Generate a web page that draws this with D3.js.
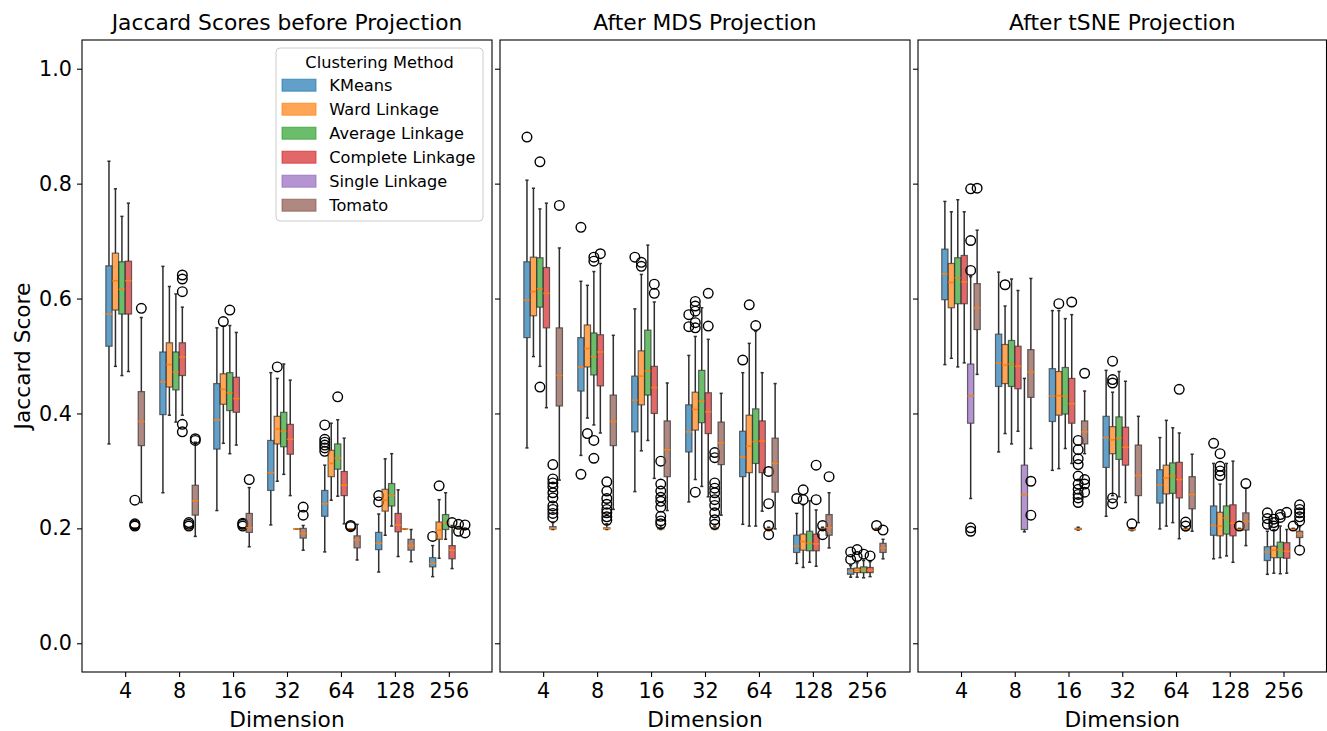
<!DOCTYPE html>
<html><head><meta charset="utf-8">
<script src="https://cdn.jsdelivr.net/npm/d3@7"></script>
<style>body{margin:0;background:#fff} svg{display:block} text{font-family:"DejaVu Sans",sans-serif;fill:#000}</style>
</head><body><svg id="c" width="1327" height="731"></svg>
<script>
const dims = ["4","8","16","32","64","128","256"];
const methods = ["KMeans","Ward Linkage","Average Linkage","Complete Linkage","Single Linkage","Tomato"];
const colors = ["#1f77b4","#ff7f0e","#2ca02c","#d62728","#9467bd","#8c564b"];
const titles = ["Jaccard Scores before Projection","After MDS Projection","After tSNE Projection"];
const yTicks = [0,0.2,0.4,0.6,0.8,1.0];

// [low whisker, Q1, median, Q3, high whisker] per dimension, per method
const beforeBoxes = [
 [[0.347,0.517,0.573,0.657,0.839],[0.482,0.580,0.631,0.679,0.791],[0.466,0.573,0.616,0.664,0.743],[0.473,0.573,0.631,0.665,0.766],[0.200,0.200,0.201,0.201,0.201],[0.245,0.344,0.386,0.438,0.567]],
 [[0.262,0.398,0.455,0.507,0.656],[0.397,0.446,0.485,0.523,0.621],[0.385,0.441,0.472,0.507,0.608],[0.397,0.466,0.498,0.523,0.585],[0.200,0.200,0.200,0.200,0.200],[0.186,0.223,0.248,0.275,0.350]],
 [[0.231,0.338,0.389,0.452,0.549],[0.348,0.416,0.442,0.469,0.552],[0.330,0.405,0.436,0.471,0.553],[0.345,0.402,0.426,0.463,0.541],[0.200,0.200,0.200,0.200,0.200],[0.168,0.193,0.201,0.226,0.271]],
 [[0.206,0.266,0.297,0.353,0.471],[0.282,0.347,0.373,0.395,0.461],[0.294,0.342,0.369,0.402,0.486],[0.257,0.329,0.355,0.381,0.458],[0.199,0.199,0.199,0.199,0.199],[0.162,0.183,0.191,0.200,0.205]],
 [[0.159,0.221,0.243,0.266,0.310],[0.249,0.290,0.313,0.336,0.383],[0.256,0.303,0.322,0.347,0.389],[0.208,0.257,0.275,0.299,0.357],[0.199,0.199,0.199,0.199,0.199],[0.145,0.166,0.180,0.187,0.207]],
 [[0.124,0.163,0.174,0.193,0.225],[0.188,0.230,0.249,0.268,0.321],[0.204,0.239,0.257,0.278,0.330],[0.151,0.194,0.206,0.226,0.267],[0.199,0.199,0.199,0.199,0.199],[0.142,0.162,0.170,0.181,0.198]],
 [[0.116,0.133,0.139,0.149,0.170],[0.148,0.181,0.197,0.211,0.250],[0.181,0.198,0.210,0.224,0.262],[0.130,0.147,0.162,0.170,0.205],[0.200,0.200,0.200,0.200,0.200],[0.198,0.199,0.199,0.200,0.200]]
];
const beforeOutliers = [
 [[],[],[],[],[0.249,0.204,0.206,0.208],[0.583]],
 [[],[],[],[0.641,0.634,0.612,0.381,0.368],[0.204,0.207,0.210],[0.353,0.356]],
 [[],[0.560],[0.580],[],[0.204,0.207,0.209],[0.285]],
 [[],[0.481],[],[],[],[0.223,0.237]],
 [[0.334,0.340,0.345,0.350,0.355,0.380],[],[0.429],[],[0.203,0.205],[]],
 [[0.246,0.257],[],[],[],[],[]],
 [[0.186],[0.274],[],[0.210],[0.207,0.195],[0.206,0.192]]
];

const mdsBoxes = [
 [[0.340,0.532,0.597,0.664,0.806],[0.499,0.570,0.612,0.672,0.792],[0.482,0.585,0.617,0.671,0.756],[0.410,0.549,0.609,0.654,0.766],[0.198,0.199,0.200,0.203,0.210],[0.284,0.413,0.466,0.549,0.688]],
 [[0.327,0.439,0.481,0.532,0.630],[0.392,0.481,0.513,0.554,0.623],[0.380,0.467,0.499,0.540,0.647],[0.366,0.448,0.507,0.537,0.661],[0.198,0.199,0.200,0.201,0.208],[0.233,0.344,0.386,0.432,0.536]],
 [[0.264,0.368,0.423,0.465,0.582],[0.335,0.415,0.465,0.509,0.642],[0.353,0.432,0.474,0.545,0.693],[0.287,0.400,0.445,0.482,0.594],[0.198,0.199,0.200,0.201,0.205],[0.231,0.290,0.337,0.387,0.453]],
 [[0.246,0.333,0.368,0.415,0.501],[0.285,0.371,0.407,0.437,0.534],[0.273,0.384,0.421,0.475,0.584],[0.255,0.365,0.403,0.436,0.529],[0.198,0.199,0.200,0.201,0.204],[0.223,0.311,0.349,0.385,0.435]],
 [[0.207,0.290,0.324,0.369,0.471],[0.204,0.297,0.343,0.397,0.522],[0.204,0.313,0.351,0.408,0.543],[0.230,0.297,0.352,0.387,0.471],[0.196,0.198,0.199,0.200,0.202],[0.199,0.263,0.313,0.357,0.452]],
 [[0.139,0.158,0.169,0.188,0.226],[0.132,0.162,0.177,0.190,0.241],[0.141,0.161,0.174,0.195,0.248],[0.134,0.161,0.173,0.190,0.232],[0.196,0.197,0.198,0.200,0.202],[0.166,0.188,0.201,0.224,0.262]],
 [[0.115,0.120,0.125,0.130,0.135],[0.115,0.123,0.127,0.131,0.140],[0.114,0.123,0.128,0.133,0.144],[0.116,0.123,0.127,0.132,0.142],[0.197,0.198,0.198,0.199,0.200],[0.147,0.158,0.166,0.174,0.181]]
];
const mdsOutliers = [
 [[0.881],[],[0.838,0.446],[],[0.311,0.286,0.279,0.272,0.262,0.253,0.239,0.233,0.226,0.219],[0.762]],
 [[0.724,0.294],[0.365],[0.672,0.665,0.353,0.322],[0.678],[0.281,0.265,0.252,0.242,0.233,0.227,0.220,0.214],[]],
 [[0.672],[0.663,0.656],[],[0.625,0.609],[0.317,0.277,0.265,0.254,0.247,0.237,0.221,0.213,0.208],[]],
 [[0.572,0.551],[0.595,0.587,0.578,0.558,0.549,0.263],[],[0.609,0.552],[0.332,0.323,0.279,0.270,0.262,0.250,0.240,0.227,0.215,0.207],[]],
 [[0.493],[0.589],[0.553],[],[0.299,0.243,0.205,0.189],[]],
 [[0.252],[0.267,0.250],[],[0.310,0.250],[0.205,0.189],[0.290]],
 [[0.159,0.146],[0.163,0.151],[0.155],[0.152],[0.205],[0.197]]
];

const tsneBoxes = [
 [[0.485,0.598,0.643,0.686,0.769],[0.496,0.584,0.628,0.661,0.751],[0.481,0.591,0.636,0.671,0.772],[0.488,0.591,0.629,0.675,0.751],[0.252,0.383,0.431,0.486,0.638],[0.468,0.546,0.584,0.626,0.719]],
 [[0.333,0.447,0.488,0.538,0.646],[0.365,0.452,0.484,0.520,0.587],[0.347,0.447,0.486,0.527,0.634],[0.369,0.443,0.482,0.517,0.614],[0.194,0.198,0.259,0.310,0.461],[0.339,0.428,0.472,0.511,0.635]],
 [[0.301,0.386,0.430,0.478,0.579],[0.304,0.397,0.431,0.473,0.579],[0.339,0.399,0.430,0.480,0.565],[0.313,0.383,0.417,0.461,0.572],[0.197,0.198,0.199,0.200,0.202],[0.330,0.347,0.368,0.387,0.439]],
 [[0.221,0.306,0.358,0.395,0.475],[0.257,0.330,0.354,0.377,0.437],[0.255,0.320,0.357,0.394,0.473],[0.245,0.310,0.341,0.376,0.456],[0.196,0.197,0.198,0.199,0.201],[0.210,0.257,0.292,0.345,0.395]],
 [[0.199,0.244,0.275,0.302,0.358],[0.204,0.260,0.288,0.310,0.388],[0.210,0.261,0.291,0.314,0.375],[0.182,0.253,0.285,0.315,0.366],[0.196,0.197,0.198,0.199,0.201],[0.195,0.234,0.259,0.290,0.329]],
 [[0.147,0.188,0.205,0.239,0.313],[0.149,0.187,0.204,0.228,0.277],[0.152,0.190,0.218,0.239,0.313],[0.141,0.187,0.209,0.241,0.317],[0.197,0.198,0.198,0.199,0.200],[0.170,0.197,0.212,0.227,0.270]],
 [[0.120,0.144,0.159,0.168,0.195],[0.122,0.149,0.162,0.169,0.198],[0.121,0.149,0.163,0.176,0.204],[0.122,0.148,0.160,0.175,0.198],[0.197,0.198,0.198,0.199,0.200],[0.170,0.184,0.190,0.195,0.203]]
];
const tsneOutliers = [
 [[],[],[],[],[0.791,0.701,0.649,0.201,0.195],[0.792]],
 [[],[0.624],[],[],[],[0.282,0.223]],
 [[],[0.591],[],[0.594],[0.353,0.337,0.321,0.311,0.291,0.277,0.268,0.259,0.253,0.245],[0.470,0.285,0.277,0.263]],
 [[],[0.491,0.459,0.453,0.253,0.243],[],[],[0.208],[]],
 [[],[],[],[0.442],[0.211,0.204],[]],
 [[0.348],[0.330,0.308,0.300,0.292],[],[],[0.204],[0.278]],
 [[0.227,0.217,0.207],[0.216,0.210,0.204],[0.224,0.219],[0.228],[0.204],[0.241,0.233,0.227,0.220,0.213,0.162]]
];

const panelBoxes = [beforeBoxes, mdsBoxes, tsneBoxes];
const panelOutliers = [beforeOutliers, mdsOutliers, tsneOutliers];

const svg = d3.select("#c");
const plotTop = 40, plotBottom = 672;
const panelX = [[82,492],[500,910],[918,1326.5]];
const y = d3.scaleLinear().domain([-0.05,1.05]).range([plotBottom, plotTop]);
const color = d3.scaleOrdinal().domain(methods).range(colors);
const lineCol = "#2e2e2e";

panelX.forEach(([L,R], p) => {
  const g = svg.append("g");
  const x = d3.scalePoint().domain(dims).range([L, R]).padding(0.8);
  const step = x.step();
  const hue = d3.scaleBand().domain(methods).range([-0.36*step, 0.36*step]);
  const bw = hue.bandwidth()*0.97;
  const capW = bw/2;

  const ya = d3.axisLeft(y).tickValues(yTicks).tickSize(5).tickPadding(5)
    .tickFormat(p === 0 ? d3.format(".1f") : () => "");
  const yg = g.append("g").attr("transform", `translate(${L},0)`).call(ya);
  const xa = d3.axisBottom(x).tickSize(5).tickPadding(6.5);
  const xg = g.append("g").attr("transform", `translate(0,${plotBottom})`).call(xa);
  [yg, xg].forEach(a => {
    a.select(".domain").remove();
    a.selectAll("line").attr("stroke", "#000").attr("stroke-width", 1.1);
    a.selectAll("text").style("font-size", "20.7px").style("font-family", '"DejaVu Sans",sans-serif').attr("fill", "#000");
  });

  const boxes = panelBoxes[p], outs = panelOutliers[p];
  dims.forEach((d, di) => {
    methods.forEach((m, mi) => {
      const [lo, q1, med, q3, hi] = boxes[di][mi];
      const cx = x(d) + hue(m) + hue.bandwidth()/2;
      const bg = g.append("g");
      bg.append("line").attr("x1", cx).attr("x2", cx).attr("y1", y(q1)).attr("y2", y(lo))
        .attr("stroke", lineCol).attr("stroke-width", 1.5);
      bg.append("line").attr("x1", cx).attr("x2", cx).attr("y1", y(q3)).attr("y2", y(hi))
        .attr("stroke", lineCol).attr("stroke-width", 1.5);
      [lo, hi].forEach(v => bg.append("line").attr("x1", cx - capW/2).attr("x2", cx + capW/2)
        .attr("y1", y(v)).attr("y2", y(v)).attr("stroke", lineCol).attr("stroke-width", 1.5));
      bg.append("rect").attr("x", cx - bw/2).attr("width", bw)
        .attr("y", y(q3)).attr("height", Math.max(0.01, y(q1) - y(q3)))
        .attr("fill", color(m)).attr("fill-opacity", 0.7)
        .attr("stroke", lineCol).attr("stroke-opacity", 0.7).attr("stroke-width", 1.2);
      bg.append("line").attr("x1", cx - bw/2).attr("x2", cx + bw/2).attr("y1", y(med)).attr("y2", y(med))
        .attr("stroke", "#ff7f0e").attr("stroke-width", 1.5);
      bg.selectAll("circle").data(outs[di][mi]).join("circle")
        .attr("cx", cx).attr("cy", v => y(v)).attr("r", 4.8)
        .attr("fill", "none").attr("stroke", "#000").attr("stroke-width", 1.4);
    });
  });

  g.append("rect").attr("x", L).attr("y", plotTop).attr("width", R - L).attr("height", plotBottom - plotTop)
    .attr("fill", "none").attr("stroke", "#000").attr("stroke-width", 1.1);

  g.append("text").attr("x", (L+R)/2).attr("y", 29.5).attr("text-anchor", "middle")
    .style("font-size", "21.8px").text(titles[p]);
  g.append("text").attr("x", (L+R)/2).attr("y", 726.5).attr("text-anchor", "middle")
    .style("font-size", "21.7px").text("Dimension");
});

svg.append("text").attr("transform", `translate(30,356) rotate(-90)`).attr("text-anchor", "middle")
  .style("font-size", "21.7px").text("Jaccard Score");

const lg = svg.append("g");
lg.append("rect").attr("x", 276).attr("y", 48).attr("width", 207).attr("height", 173).attr("rx", 4)
  .attr("fill", "#fff").attr("fill-opacity", 0.8).attr("stroke", "#cccccc").attr("stroke-width", 1);
lg.append("text").attr("x", 379.5).attr("y", 67.5).attr("text-anchor", "middle")
  .style("font-size", "16.2px").text("Clustering Method");
methods.forEach((m, i) => {
  lg.append("rect").attr("x", 282).attr("y", 79.2 + 24*i).attr("width", 34).attr("height", 12)
    .attr("fill", color(m)).attr("fill-opacity", 0.7).attr("stroke", color(m)).attr("stroke-opacity", 0.7);
  lg.append("text").attr("x", 329.3).attr("y", 91 + 24*i).style("font-size", "16.2px").text(m);
});
</script></body></html>
